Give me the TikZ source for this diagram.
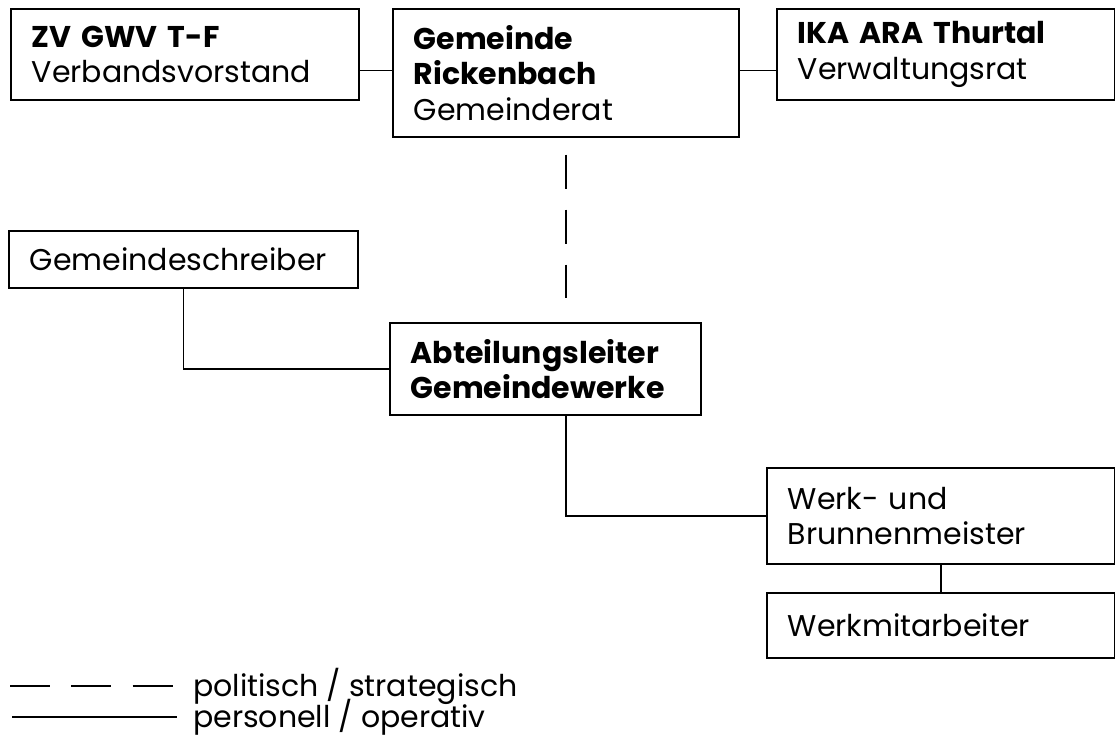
\documentclass[tikz,border=0pt]{standalone}
\usepackage{fontspec}
\setmainfont{Poppins}

\tikzset{
  orgbox/.style={draw, line width=1.2pt, anchor=north west, inner xsep=15.75pt,
    align=left, font=\fontsize{22.5}{26.5}\selectfont},
  link/.style={line width=1.1pt},
  legtext/.style={anchor=west, inner sep=0pt, font=\fontsize{22.5}{26.5}\selectfont},
}

\begin{document}
\begin{tikzpicture}[x=0.75pt, y=-0.75pt]
  \useasboundingbox (0,0) rectangle (1115,740);

  % Leitungsebene
  \node[orgbox, text width=229.5pt, minimum height=68.25pt] (zv) at (10,8)
    {\textbf{ZV GWV T-F}\\Verbandsvorstand};
  \node[orgbox, text width=228pt, minimum height=96pt] (gem) at (392,8)
    {\textbf{Gemeinde}\\\textbf{Rickenbach}\\Gemeinderat};
  \node[orgbox, text width=222pt, minimum height=68.25pt] (ika) at (776,8)
    {\textbf{IKA ARA Thurtal}\\Verwaltungsrat};

  % Verwaltung
  \node[orgbox, text width=230.25pt, minimum height=42.75pt] (schreiber) at (8,230)
    {Gemeindeschreiber};
  \node[orgbox, text width=201.75pt, minimum height=69pt] (abt) at (389,322)
    {\textbf{Abteilungsleiter}\\\textbf{Gemeindewerke}};

  % Betrieb
  \node[orgbox, text width=229.5pt, minimum height=72pt] (werk) at (766,467)
    {Werk- und\\Brunnenmeister};
  \node[orgbox, text width=229.5pt, minimum height=48.75pt] (mitarb) at (766,592)
    {Werkmitarbeiter};

  % Verbindungen
  \draw[link] ([yshift=-12pt]zv.east) -- ([yshift=-12pt]zv.east -| gem.west);
  \draw[link] ([yshift=-12pt]ika.west) -- ([yshift=-12pt]ika.west -| gem.east);
  \draw[link, dash pattern=on 25.5pt off 15.75pt, dash phase=28.5pt, shorten >=18pt]
    (gem.south) -- (gem.south |- abt.north);
  \draw[link] (schreiber.south) |- (abt.west);
  \draw[link] (gem.south |- abt.south) |- (werk.west);
  \draw[link] (werk.south) -- (mitarb.north);

  % Legende
  \node[legtext] (pol) at (193,686) {politisch / strategisch};
  \node[legtext] (pers) at (193,717) {personell / operativ};
  \coordinate (pol0) at (10,686);
  \coordinate (pers0) at (12,717);
  \draw[link, dash pattern=on 30pt off 16pt] (pol0) -- ([xshift=-13pt]pol.west);
  \draw[link] (pers0) -- ([xshift=-12pt]pers.west);
\end{tikzpicture}
\end{document}
